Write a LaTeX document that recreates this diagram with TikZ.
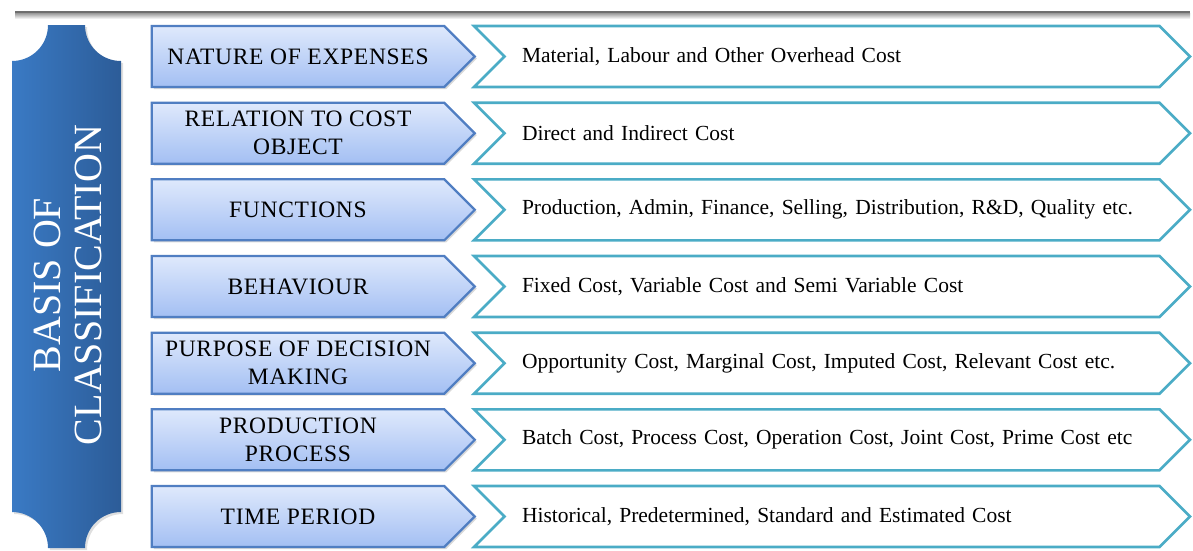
\documentclass[tikz,border=0pt]{standalone}
\usepackage{fontspec}
\setmainfont{Liberation Serif}
\usetikzlibrary{
  shapes.symbols,
  shadows,
  positioning
}
\definecolor{bannerleft}{RGB}{58,122,196}
\definecolor{bannerright}{RGB}{44,92,152}
\definecolor{basistop}{RGB}{223,233,252}
\definecolor{basisbottom}{RGB}{163,191,243}
\definecolor{basisline}{RGB}{80,126,194}
\definecolor{costline}{RGB}{75,172,198}
\definecolor{rulegray}{RGB}{110,110,110}
\tikzset{
  basis/.style={
    shape=signal,
    signal to=east,
    signal pointer angle=90,
    draw=basisline,
    line width=2.2pt,
    top color=basistop,
    bottom color=basisbottom,
    minimum width=323pt,
    minimum height=61pt,
    inner sep=0pt,
    align=center,
    font=\fontsize{23.5}{28}\selectfont\addfontfeature{LetterSpace=3},
    drop shadow={opacity=0.3, shadow xshift=2pt, shadow yshift=-2pt}
  },
  costs/.style={
    shape=signal,
    signal from=west,
    signal to=east,
    signal pointer angle=90,
    draw=costline,
    line width=2.6pt,
    fill=white,
    minimum width=716pt,
    minimum height=61pt,
    inner sep=0pt,
    text width=620pt,
    align=left,
    font=\fontsize{21.5}{26}\selectfont,
    % one line only, running on past the text width
    execute at begin node={\hbox\bgroup},
    execute at end node={\egroup}
  },
  banner/.style={
    left color=bannerleft,
    right color=bannerright,
    drop shadow={opacity=0.25, shadow xshift=2pt, shadow yshift=-2pt}
  },
  bannertext/.style={
    rotate=90,
    align=center,
    text=white,
    font=\fontsize{40}{41}\selectfont
  }
}

\begin{document}
\begin{tikzpicture}[x=1pt, y=-1pt]
\useasboundingbox (0,0) rectangle (1193,550);

% Rule across the top.
\shade[top color=rulegray!70, bottom color=white] (15,13) rectangle (1190,19);
\draw[rulegray, line width=1.6pt] (15,12) -- (1190,12);

% Banner with notched ends.
\path[banner] (48,25) -- (85,25)
  .. controls (85,45) and (101,61) .. (121,61)
  -- (121,512)
  .. controls (101,512) and (85,528) .. (85,548)
  -- (48,548)
  .. controls (48,528) and (32,512) .. (12,512)
  -- (12,61)
  .. controls (32,61) and (48,45) .. (48,25) -- cycle;
\node[bannertext] (title) at (68,285) {BASIS OF\\CLASSIFICATION};

% Bases of classification.
\node[basis] (nature)   at (298,56.5)  {NATURE OF EXPENSES};
\node[basis] (relation) at (298,133.2) {RELATION TO COST\\OBJECT};
\node[basis] (function) at (298,209.8) {FUNCTIONS};
\node[basis] (behave)   at (298,286.5) {BEHAVIOUR};
\node[basis] (purpose)  at (298,363.2) {PURPOSE OF DECISION\\MAKING};
\node[basis] (process)  at (298,439.8) {PRODUCTION\\PROCESS};
\node[basis] (period)   at (298,516.5) {TIME PERIOD};

% Resulting costs.
\node[costs] (naturecost)   at (832,56.5)  {Material, Labour and Other Overhead Cost};
\node[costs] (relationcost) at (832,133.2) {Direct and Indirect Cost};
\node[costs] (functioncost) at (832,209.8) {Production, Admin, Finance, Selling,  Distribution, R\&D, Quality etc.};
\node[costs] (behavecost)   at (832,286.5) {Fixed Cost, Variable Cost and Semi Variable Cost};
\node[costs] (purposecost)  at (832,363.2) {Opportunity Cost, Marginal Cost, Imputed Cost, Relevant Cost etc.};
\node[costs] (processcost)  at (832,439.8) {Batch Cost, Process Cost, Operation Cost, Joint Cost, Prime Cost etc};
\node[costs] (periodcost)   at (832,516.5) {Historical, Predetermined, Standard and Estimated Cost};

\end{tikzpicture}
\end{document}
